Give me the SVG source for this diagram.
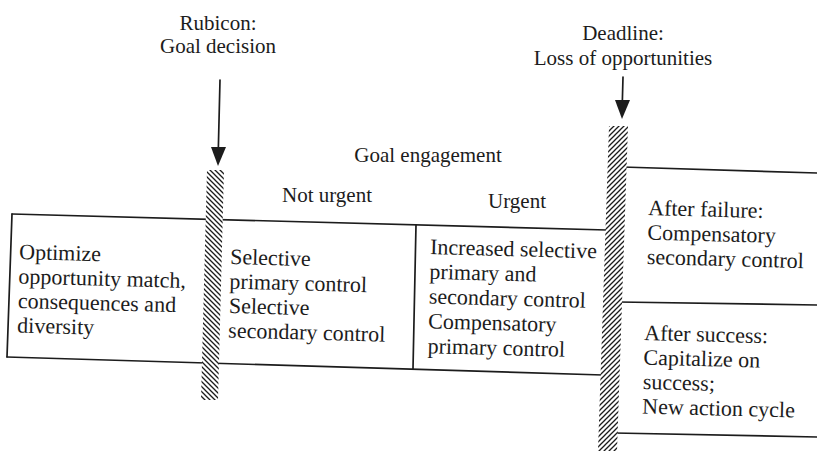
<svg xmlns="http://www.w3.org/2000/svg" width="817" height="451" viewBox="0 0 817 451">
  <defs>
    <style>
      .t { font-family: "Liberation Serif", "DejaVu Serif", serif; font-size: 22px; fill: #1c1c1c; }
      .h { font-family: "Liberation Serif", "DejaVu Serif", serif; font-size: 21px; fill: #1c1c1c; text-anchor: middle; }
      .ln { stroke: #1c1c1c; stroke-width: 1.7; fill: none; stroke-linecap: round; }
      .bar { stroke: none; }
    </style>
    <pattern id="hatchBack" patternUnits="userSpaceOnUse" width="5" height="5">
      <rect width="5" height="5" fill="#fff"/>
      <path d="M-1,-1 L6,6 M-1,4 L1,6 M4,-1 L6,1" stroke="#1c1c1c" stroke-width="1.3"/>
    </pattern>
    <pattern id="hatchFwd" patternUnits="userSpaceOnUse" width="5" height="5">
      <rect width="5" height="5" fill="#fff"/>
      <path d="M-1,6 L6,-1 M-1,1 L1,-1 M4,6 L6,4" stroke="#1c1c1c" stroke-width="1.3"/>
    </pattern>
  </defs>
  <rect width="817" height="451" fill="#fff"/>

  <!-- frame lines of the boxes -->
  <g id="frame">
    <line class="ln" x1="12" y1="214" x2="607" y2="230"/>
    <line class="ln" x1="12" y1="214" x2="7" y2="357"/>
    <line class="ln" x1="7" y1="357" x2="603" y2="375"/>
    <line class="ln" x1="416" y1="225" x2="413" y2="369"/>
    <line class="ln" x1="622" y1="167" x2="817" y2="173"/>
    <line class="ln" x1="618" y1="302" x2="817" y2="305"/>
    <line class="ln" x1="614" y1="433" x2="817" y2="437"/>
  </g>

  <!-- hatched boundaries -->
  <g id="rubicon-bar">
    <polygon class="bar" points="207,170 224,170 218,400 201,400" fill="url(#hatchBack)"/>
  </g>
  <g id="deadline-bar">
    <polygon class="bar" points="609,126 628,126 617,451 598,451" fill="url(#hatchFwd)"/>
  </g>

  <!-- labels -->
  <g id="rubicon-label">
    <text class="h" x="218" y="30">Rubicon:</text>
    <text class="h" x="218" y="53">Goal decision</text>
  </g>
  <g id="deadline-label">
    <text class="h" x="623" y="40">Deadline:</text>
    <text class="h" x="623" y="65">Loss of opportunities</text>
  </g>
  <g id="goal-engagement-label">
    <text class="h" x="428" y="162">Goal engagement</text>
    <text class="h" x="327" y="202">Not urgent</text>
    <text class="h" x="517" y="208">Urgent</text>
  </g>

  <!-- boxes -->
  <g id="predecisional" transform="rotate(1.5 19 259)">
    <text class="t" x="19" y="259">Optimize</text>
    <text class="t" x="19" y="283.5">opportunity match,</text>
    <text class="t" x="19" y="308">consequences and</text>
    <text class="t" x="19" y="332.5">diversity</text>
  </g>
  <g id="not-urgent" transform="rotate(1.5 230 264)">
    <text class="t" x="230" y="264">Selective</text>
    <text class="t" x="230" y="288.5">primary control</text>
    <text class="t" x="230" y="313">Selective</text>
    <text class="t" x="230" y="337.5">secondary control</text>
  </g>
  <g id="urgent" transform="rotate(1.5 430 254)">
    <text class="t" x="430" y="254">Increased selective</text>
    <text class="t" x="430" y="278.8">primary and</text>
    <text class="t" x="430" y="303.6">secondary control</text>
    <text class="t" x="430" y="328.4">Compensatory</text>
    <text class="t" x="430" y="353.2">primary control</text>
  </g>
  <g id="after-failure" transform="rotate(1.5 648 215)">
    <text class="t" x="648" y="215">After failure:</text>
    <text class="t" x="648" y="239.5">Compensatory</text>
    <text class="t" x="648" y="264">secondary control</text>
  </g>
  <g id="after-success" transform="rotate(1.5 644 340)">
    <text class="t" x="644" y="340">After success:</text>
    <text class="t" x="644" y="364.5">Capitalize on</text>
    <text class="t" x="644" y="389">success;</text>
    <text class="t" x="644" y="413.5">New action cycle</text>
  </g>

  <!-- connectors -->
  <g id="connectors">
    <line class="ln" x1="220" y1="80" x2="218.3" y2="150"/>
    <polygon points="211,147 226,147 218,166" fill="#1c1c1c"/>
    <line class="ln" x1="623" y1="77" x2="622.3" y2="103"/>
    <polygon points="615,100 630,100 622,119" fill="#1c1c1c"/>
  </g>
</svg>
